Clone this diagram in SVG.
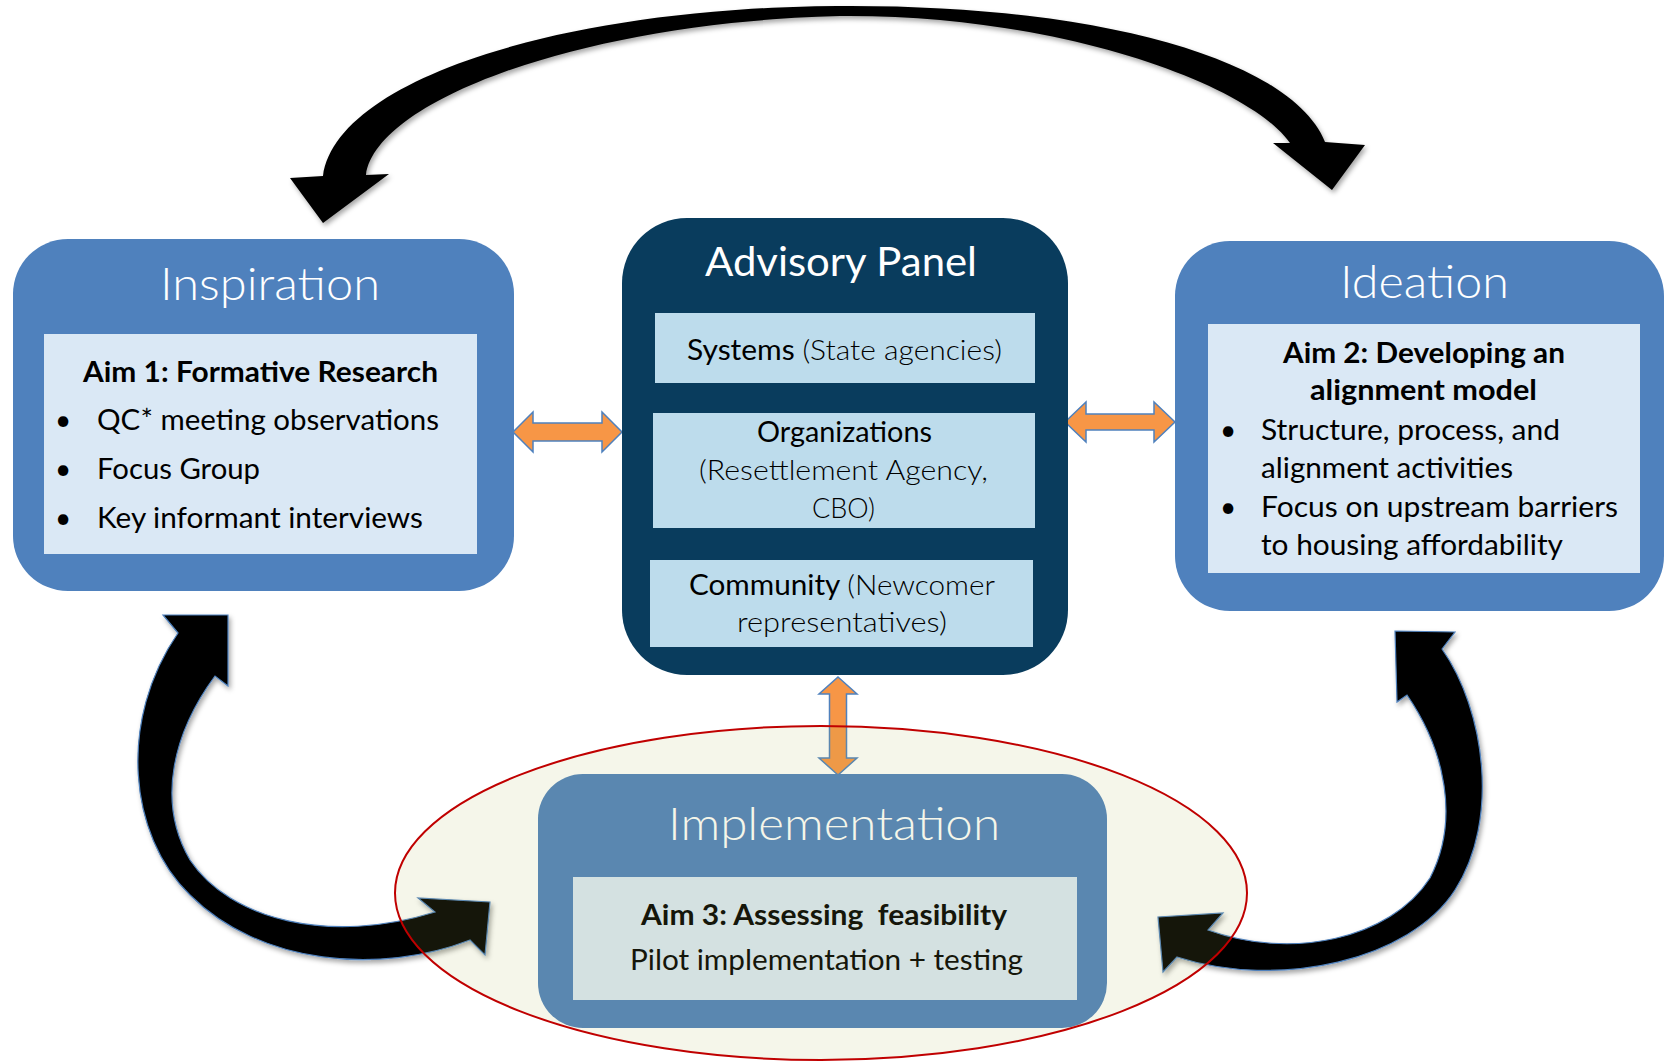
<svg xmlns="http://www.w3.org/2000/svg" width="1665" height="1061" viewBox="0 0 1665 1061">
<defs>
<style>
.t{font-family:Lato,"Open Sans","Liberation Sans",sans-serif;}
.title{font-size:46px;font-weight:300;fill:#ffffff;}
.body{font-size:28px;fill:#000000;}
.bold{font-size:29px;font-weight:bold;fill:#000000;}
.lt{font-weight:300;}
.outer{fill:#4F81BD;}
.inner{fill:#DAE8F5;}
.adv{fill:#093C5D;}
.advin{fill:#BDDCEC;}
.curve{fill:#000000;stroke:#4F81BD;stroke-width:1.2;filter:url(#sh);}
.orange{fill:#F79646;stroke:#4F81BD;stroke-width:1.5;stroke-linejoin:miter;}
</style>
<filter id="sh" x="-10%" y="-10%" width="125%" height="125%">
<feDropShadow dx="2" dy="3" stdDeviation="2.5" flood-color="#000000" flood-opacity="0.35"/>
</filter>
</defs>
<rect x="0" y="0" width="1665" height="1061" fill="#ffffff"/>

<g id="connectors">
<path id="arc-top" class="curve" style="stroke:none" d="M 323,176 L 290,178 L 323,223 L 389,174 L 366,175 C 376,100 585,22 840,16 C 1060,14 1250,85 1290,143 L 1273,143 L 1332,190 L 1365,145 L 1325,142 C 1292,60 1100,4 837,6 C 560,8 336,80 323,176 Z"/>
<path id="arc-left" class="curve" d="M 178,633 L 163,615 L 228,615 L 228,686 L 215,676 C 175,730 155,800 190,860 C 230,920 330,945 435,912 L 418,898 L 490,902 L 485,955 L 470,940 C 380,975 260,965 190,895 C 128,835 118,720 178,633 Z"/>
<path id="arc-right" class="curve" d="M 1442,649 L 1455,632 L 1395,631 L 1397,702 L 1407,695 C 1445,750 1460,820 1430,878 C 1390,940 1290,960 1208,930 L 1223,913 L 1158,917 L 1163,972 L 1177,957 C 1280,990 1410,960 1455,890 C 1500,820 1485,710 1442,649 Z"/>
<path id="link-left" class="orange" d="M 513,432 L 533,412 L 533,423 L 602,423 L 602,412 L 622,432 L 602,452 L 602,441 L 533,441 L 533,452 Z"/>
<path id="link-right" class="orange" d="M 1065,422 L 1086,402 L 1086,414 L 1154,414 L 1154,402 L 1175,422 L 1154,442 L 1154,430 L 1086,430 L 1086,442 Z"/>
<path id="link-down" class="orange" d="M 838,677 L 857,694 L 846.5,694 L 846.5,758 L 857,758 L 838,775 L 819,758 L 829.5,758 L 829.5,694 L 819,694 Z"/>
</g>

<g id="inspiration">
<rect class="outer" x="13" y="239" width="501" height="352" rx="55" ry="55"/>
<rect class="inner" x="44" y="334" width="433" height="220"/>
<text class="t title" x="160" y="300" textLength="220" lengthAdjust="spacingAndGlyphs">Inspiration</text>
<text class="t bold" x="83" y="382" textLength="355" lengthAdjust="spacingAndGlyphs">Aim 1: Formative Research</text>
<text class="t body" x="55" y="430">•</text>
<text class="t body" x="97" y="430" textLength="342" lengthAdjust="spacingAndGlyphs">QC* meeting observations</text>
<text class="t body" x="55" y="479">•</text>
<text class="t body" x="97" y="479" textLength="163" lengthAdjust="spacingAndGlyphs">Focus Group</text>
<text class="t body" x="55" y="528">•</text>
<text class="t body" x="97" y="528" textLength="326" lengthAdjust="spacingAndGlyphs">Key informant interviews</text>
</g>

<g id="advisory-panel">
<rect class="adv" x="622" y="218" width="446" height="457" rx="65" ry="65"/>
<text class="t" x="705" y="276" style="font-size:41px;fill:#ffffff" textLength="272" lengthAdjust="spacingAndGlyphs">Advisory Panel</text>
<rect class="advin" x="655" y="313" width="380" height="70"/>
<text class="t body" x="687" y="360" textLength="315" lengthAdjust="spacingAndGlyphs">Systems <tspan class="lt">(State agencies)</tspan></text>
<rect class="advin" x="653" y="413" width="382" height="115"/>
<text class="t body" x="757" y="442" textLength="175" lengthAdjust="spacingAndGlyphs">Organizations</text>
<text class="t body lt" x="699" y="480" textLength="289" lengthAdjust="spacingAndGlyphs">(Resettlement Agency,</text>
<text class="t body lt" x="812" y="518" textLength="63" lengthAdjust="spacingAndGlyphs">CBO)</text>
<rect class="advin" x="650" y="560" width="383" height="87"/>
<text class="t body" x="689" y="595" textLength="306" lengthAdjust="spacingAndGlyphs">Community <tspan class="lt">(Newcomer</tspan></text>
<text class="t body lt" x="737" y="632" textLength="210" lengthAdjust="spacingAndGlyphs">representatives)</text>
</g>

<g id="ideation">
<rect class="outer" x="1175" y="241" width="489" height="370" rx="55" ry="55"/>
<rect class="inner" x="1208" y="324" width="432" height="249"/>
<text class="t title" x="1340" y="298" textLength="169" lengthAdjust="spacingAndGlyphs">Ideation</text>
<text class="t bold" x="1283" y="363" textLength="282" lengthAdjust="spacingAndGlyphs">Aim 2: Developing an</text>
<text class="t bold" x="1310" y="400" textLength="227" lengthAdjust="spacingAndGlyphs">alignment model</text>
<text class="t body" x="1220" y="440">•</text>
<text class="t body" x="1261" y="440" textLength="299" lengthAdjust="spacingAndGlyphs">Structure, process, and</text>
<text class="t body" x="1261" y="478" textLength="252" lengthAdjust="spacingAndGlyphs">alignment activities</text>
<text class="t body" x="1220" y="517">•</text>
<text class="t body" x="1261" y="517" textLength="357" lengthAdjust="spacingAndGlyphs">Focus on upstream barriers</text>
<text class="t body" x="1261" y="555" textLength="302" lengthAdjust="spacingAndGlyphs">to housing affordability</text>
</g>

<g id="implementation">
<rect class="outer" x="538" y="774" width="569" height="254" rx="45" ry="45"/>
<rect class="inner" x="573" y="877" width="504" height="123"/>
<text class="t title" x="668" y="840" textLength="332" lengthAdjust="spacingAndGlyphs">Implementation</text>
<text class="t bold" x="641" y="925" xml:space="preserve" style="white-space:pre" textLength="366" lengthAdjust="spacingAndGlyphs">Aim 3: Assessing  feasibility</text>
<text class="t body" x="630" y="970" textLength="393" lengthAdjust="spacingAndGlyphs">Pilot implementation + testing</text>
</g>

<g id="implementation-highlight">
<ellipse cx="821" cy="893" rx="426" ry="167" fill="#ACB450" fill-opacity="0.12" stroke="#C00000" stroke-width="2"/>
</g>
</svg>
